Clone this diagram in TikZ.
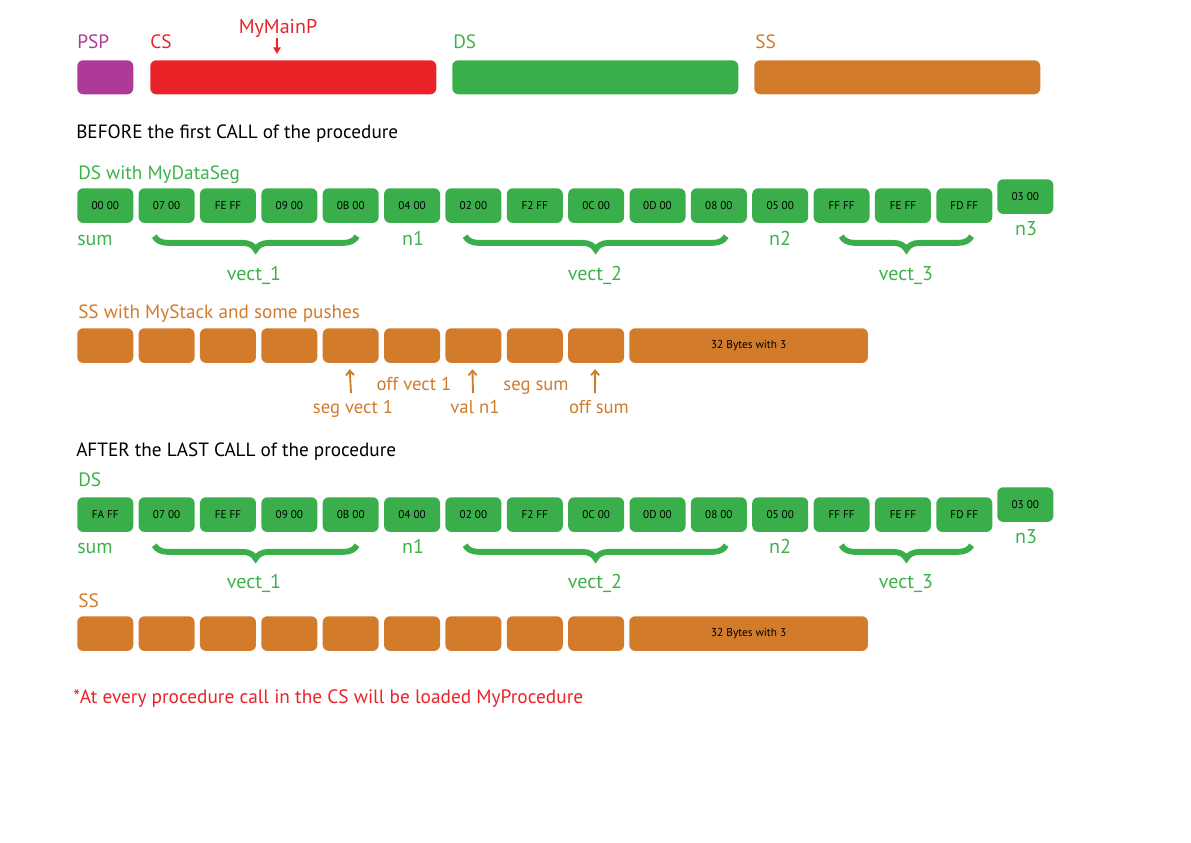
\documentclass[tikz,border=0pt]{standalone}
\usepackage{fontspec}
\setmainfont{PT Sans}
\usetikzlibrary{decorations.pathreplacing,arrows.meta,calc}
\definecolor{cgreen}{HTML}{39AE4A}
\definecolor{tgreen}{HTML}{3DB24B}
\definecolor{cred}{HTML}{E92328}
\definecolor{cpurple}{HTML}{AE3A97}
\definecolor{corange}{HTML}{D17B2B}
\begin{document}
\begin{tikzpicture}[x=0.75pt,y=-0.75pt,
  seg/.style={fill=#1,draw=none,rounded corners=4.5pt,anchor=north west,minimum height=25.5pt,inner sep=0pt},
  cell/.style={fill=#1,draw=none,rounded corners=4.5pt,anchor=north west,minimum width=42pt,minimum height=26pt,inner sep=0pt,font=\fontsize{8.4}{9}\selectfont,text=black},
  head/.style={anchor=base west,inner sep=0pt,font=\fontsize{14.4}{16}\selectfont},
  tlab/.style={anchor=base west,inner sep=0pt,font=\fontsize{14.5}{16}\selectfont},
  lab/.style={anchor=base,inner sep=0pt,font=\fontsize{15}{17}\selectfont,text=tgreen},
  olab/.style={anchor=base,inner sep=0pt,font=\fontsize{14}{16}\selectfont,text=corange},
  gbrace/.style={draw=cgreen,line width=4.4pt,decorate,decoration={brace,mirror,amplitude=10pt}},
  oarrow/.style={draw=corange,line width=1.4pt,-{Straight Barb[length=3.5pt,width=6pt]}}
]
\useasboundingbox (0,0) rectangle (1191,842);
% top row
\node[seg=cpurple,minimum width=42pt] (psp) at (77,60) {};
\node[seg=cred,minimum width=214.5pt] (cs) at (150,60) {};
\node[seg=cgreen,minimum width=214.5pt] (ds) at (452,60) {};
\node[seg=corange,minimum width=214.5pt] (ss) at (754,60) {};
\node[tlab,text=cpurple] (pspl) at (77,49) {PSP};
\node[tlab,text=cred] (csl) at (150,49) {CS};
\node[tlab,text=tgreen] (dsl) at (453,49) {DS};
\node[tlab,text=corange] (ssl) at (755,49) {SS};
\node[anchor=base,inner sep=0pt,text=cred,font=\fontsize{15}{17}\selectfont] (mmp) at (278,34) {MyMainP};
\coordinate (mmpt) at (277,54);
\draw[draw=cred,line width=1.4pt,-{Triangle[length=5pt,width=5.5pt]}] ($(mmp.base)+(-1,4)$) -- (mmpt);

\node[head] (before) at (76,138) {BEFORE the first CALL of the procedure};
\node[head,text=tgreen] (dswith) at (78,179) {DS with MyDataSeg};

% DS row 1
\foreach \v [count=\i] in {00 00,07 00,FE FF,09 00,0B 00,04 00,02 00,F2 FF,0C 00,0D 00,08 00,05 00,FF FF,FE FF,FD FF}{
  \node[cell=cgreen] (a\i) at ({77+61.36*(\i-1)},188) {\v};
}
\node[cell=cgreen] (a16) at (997,179) {03 00};
\node[lab,anchor=base west] (asum) at (77,245) {sum};
\node[lab] (an1) at (413,245) {n1};
\node[lab] (an2) at (780,245) {n2};
\node[lab] (an3) at (1026,235) {n3};
\draw[gbrace] ($(a2.south west)+(16,13)$) -- ($(a5.south east)+(-22,13)$);
\draw[gbrace] ($(a7.south west)+(20,13)$) -- ($(a11.south east)+(-21,13)$);
\draw[gbrace] ($(a13.south west)+(28,13)$) -- ($(a15.south east)+(-21,13)$);
\node[lab] (av1) at (254,280) {vect\_1};
\node[lab] (av2) at (595,280) {vect\_2};
\node[lab] (av3) at (906,280) {vect\_3};

% SS row 1
\node[head,text=corange] (sswith) at (78,318) {SS with MyStack and some pushes};
\foreach \i in {1,...,9}{
  \node[cell=corange] (b\i) at ({77+61.36*(\i-1)},328) {};
}
\node[cell=corange,minimum width=179pt,font=\fontsize{8.5}{9}\selectfont] (b10) at (629,328) {32 Bytes with 3};
\node[olab] (sv1) at (353,413) {seg vect 1};
\node[olab] (ov1) at (414,390) {off vect 1};
\node[olab] (vn1) at (475,413) {val n1};
\node[olab] (ssum) at (536,390) {seg sum};
\node[olab] (osum) at (599,413) {off sum};
\coordinate (t5) at ($(b5.south)+(-1,6)$);
\coordinate (t7) at ($(b7.south)+(-1,6)$);
\coordinate (t9) at ($(b9.south)+(-1,6)$);
\draw[oarrow] ($(sv1.base)+(-2,-20)$) -- (t5);
\draw[oarrow] ($(vn1.base)+(-2,-20)$) -- (t7);
\draw[oarrow] ($(osum.base)+(-4,-20)$) -- (t9);

% AFTER
\node[head] (after) at (76,456) {AFTER the LAST CALL of the procedure};
\node[tlab,text=tgreen] (ds2l) at (78,486) {DS};
\foreach \v [count=\i] in {FA FF,07 00,FE FF,09 00,0B 00,04 00,02 00,F2 FF,0C 00,0D 00,08 00,05 00,FF FF,FE FF,FD FF}{
  \node[cell=cgreen] (c\i) at ({77+61.36*(\i-1)},497) {\v};
}
\node[cell=cgreen] (c16) at (997,487) {03 00};
\node[lab,anchor=base west] (csum) at (77,553) {sum};
\node[lab] (cn1) at (413,553) {n1};
\node[lab] (cn2) at (780,553) {n2};
\node[lab] (cn3) at (1026,543) {n3};
\draw[gbrace] ($(c2.south west)+(16,13)$) -- ($(c5.south east)+(-22,13)$);
\draw[gbrace] ($(c7.south west)+(20,13)$) -- ($(c11.south east)+(-21,13)$);
\draw[gbrace] ($(c13.south west)+(28,13)$) -- ($(c15.south east)+(-21,13)$);
\node[lab] (cv1) at (254,588) {vect\_1};
\node[lab] (cv2) at (595,588) {vect\_2};
\node[lab] (cv3) at (906,588) {vect\_3};

\node[tlab,text=corange] (ss2l) at (78,607) {SS};
\foreach \i in {1,...,9}{
  \node[cell=corange] (e\i) at ({77+61.36*(\i-1)},616) {};
}
\node[cell=corange,minimum width=179pt,font=\fontsize{8.5}{9}\selectfont] (e10) at (629,616) {32 Bytes with 3};

\node[tlab,text=cred] (note) at (73,703) {*At every procedure call in the CS will be loaded MyProcedure};
\end{tikzpicture}
\end{document}
